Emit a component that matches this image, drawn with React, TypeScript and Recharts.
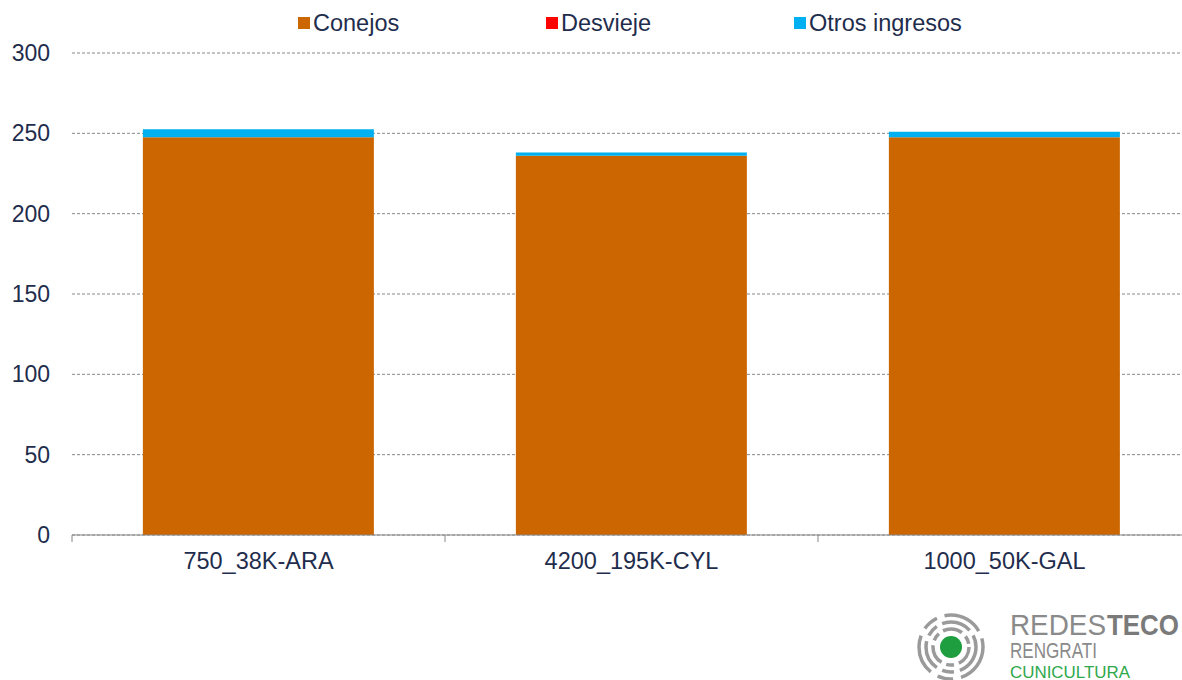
import React from 'react';
import { Bar, BarChart, CartesianGrid, Legend, XAxis, YAxis } from 'recharts';

const categories = ['750_38K-ARA', '4200_195K-CYL', '1000_50K-GAL'];
const conejos = [247.5, 236, 247.5];
const desvieje = [0, 0, 0];
const otrosIngresos = [5, 2, 3.5];
const yTicks = [0, 50, 100, 150, 200, 250, 300];

const series = [
  { key: 'conejos', name: 'Conejos', color: '#CC6600' },
  { key: 'desvieje', name: 'Desvieje', color: '#FF0000' },
  { key: 'otros', name: 'Otros ingresos', color: '#00B0F0' },
];

const data = categories.map((name, i) => ({
  name,
  conejos: conejos[i],
  desvieje: desvieje[i],
  otros: otrosIngresos[i],
}));

const W = 1200;
const H = 680;
const M = { top: 23, right: 9, bottom: 105, left: 0 };
const Y_W = 72;
const BAND = (W - M.left - M.right - Y_W) / categories.length;

const FONT = '"Liberation Sans", Arial, sans-serif';
const TEXT = '#1F2D4D';

const CategoryTick = (props: any) => {
  const { x, y, payload, index } = props;
  const half = BAND / 2;
  return (
    <g>
      <line x1={x - half} y1={y - 8} x2={x - half} y2={y - 1} stroke="#888" />
      {index === categories.length - 1 && (
        <line x1={x + half} y1={y - 8} x2={x + half} y2={y - 1} stroke="#888" />
      )}
      <text x={x} y={y + 26} textAnchor="middle" fill={TEXT} fontSize={23.5} fontFamily={FONT}>
        {payload.value}
      </text>
    </g>
  );
};

const LegendContent = () => (
  <div style={{ display: 'flex', height: 30, paddingLeft: 298, fontFamily: FONT, fontSize: 23.5, color: TEXT }}>
    {series.map((s) => (
      <div key={s.key} style={{ width: 248, display: 'flex', alignItems: 'center' }}>
        <span style={{ width: 12, height: 12, background: s.color, marginRight: 3 }} />
        <span>{s.name}</span>
      </div>
    ))}
  </div>
);

// logo at bottom right
const Logo = () => (
  <svg width={270} height={85} style={{ position: 'absolute', left: 912, top: 595 }}>
    <g fill="none" stroke="#9A9A9A" strokeWidth={3.5}>
      <circle cx={39} cy={52} r={18} strokeDasharray="20 5 8 5" />
      <circle cx={39} cy={52} r={25} strokeDasharray="30 6 12 6" />
      <circle cx={39} cy={52} r={32} strokeDasharray="40 8 16 8" />
    </g>
    <circle cx={39} cy={52} r={11} fill="#1E9E3E" />
    <text x={98} y={40} fontFamily={FONT} fontSize={30} fill="#8A8A8A" textLength={96} lengthAdjust="spacingAndGlyphs">
      REDES
    </text>
    <text x={195} y={40} fontFamily={FONT} fontSize={30} fontWeight={700} fill="#7A7A7A" textLength={72} lengthAdjust="spacingAndGlyphs">
      TECO
    </text>
    <text x={98} y={63} fontFamily={FONT} fontSize={22} fill="#8A8A8A" textLength={87} lengthAdjust="spacingAndGlyphs">
      RENGRATI
    </text>
    <text x={98} y={83} fontFamily={FONT} fontSize={17} fill="#2EA84A" textLength={120} lengthAdjust="spacingAndGlyphs">
      CUNICULTURA
    </text>
  </svg>
);

export default function App() {
  return (
    <div style={{ position: 'absolute', left: 0, top: 0, width: 1182, height: 680, overflow: 'hidden', background: '#fff' }}>
      <BarChart width={W} height={H} data={data} margin={M} barCategoryGap="19%">
        <CartesianGrid vertical={false} stroke="#888" strokeDasharray="3 2" />
        <XAxis
          dataKey="name"
          height={40}
          stroke="#888"
          tickLine={false}
          tick={<CategoryTick />}
          interval={0}
        />
        <YAxis
          width={Y_W}
          domain={[0, 300]}
          ticks={yTicks}
          axisLine={false}
          tickLine={false}
          tickSize={0}
          tickMargin={22}
          tick={{ fill: TEXT, fontSize: 23, fontFamily: FONT }}
        />
        <Legend verticalAlign="top" align="left" wrapperStyle={{ top: 8 }} content={<LegendContent />} />
        {series.map((s) => (
          <Bar key={s.key} dataKey={s.key} name={s.name} stackId="a" fill={s.color} isAnimationActive={false} />
        ))}
      </BarChart>
      <Logo />
    </div>
  );
}
